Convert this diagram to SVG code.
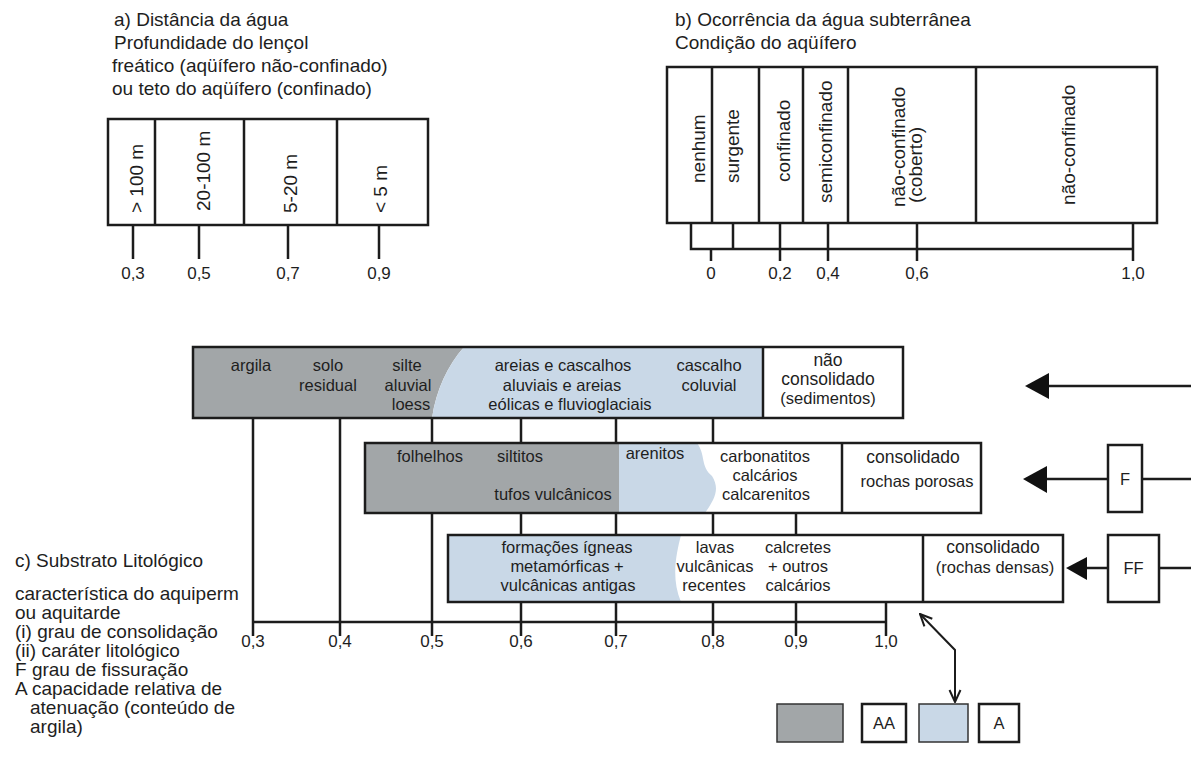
<svg xmlns="http://www.w3.org/2000/svg" width="1191" height="758" viewBox="0 0 1191 758">
<style>
  text { font-family: "Liberation Sans", Arial, sans-serif; fill: #1e1e1e; }
  .t19 { font-size: 19px; }
  .t16 { font-size: 16.5px; }
  .h { font-size: 17.5px; }
  .lab { font-size: 17px; text-anchor: middle; }
  .m { text-anchor: middle; }
  .box { fill: none; stroke: #1c1c1c; stroke-width: 2.5; }
  .ln { stroke: #1c1c1c; stroke-width: 2.5; fill: none; }
  .thin { stroke: #1c1c1c; stroke-width: 2; fill: none; }
  .gray { fill: #a2a6a8; }
  .blue { fill: #c9d8e7; }
  .head { fill: #111; }
</style>
<defs>
  <marker id="vhead" viewBox="0 0 14 14" refX="13" refY="7" markerWidth="14" markerHeight="14" markerUnits="userSpaceOnUse" orient="auto-start-reverse">
    <path d="M1,1.5 L13,7 L1,12.5" fill="none" stroke="#1c1c1c" stroke-width="2"/>
  </marker>
</defs>
<rect x="0" y="0" width="1191" height="758" fill="#ffffff"/>

<!-- Panel a -->
<g id="panel-a">
  <text class="t19" x="114" y="26">a) Distância da água</text>
  <text class="t19" x="114" y="49">Profundidade do lençol</text>
  <text class="t19" x="112" y="72">freático (aqüífero não-confinado)</text>
  <text class="t19" x="112" y="95">ou teto do aqüífero (confinado)</text>
  <rect class="box" x="108" y="119" width="320" height="106"/>
  <path class="ln" d="M155,119 V225 M244,119 V225 M337,119 V225"/>
  <text class="t19" transform="translate(143,213) rotate(-90)">&gt; 100 m</text>
  <text class="t19" transform="translate(210,211) rotate(-90)">20-100 m</text>
  <text class="t19" transform="translate(297,213) rotate(-90)">5-20 m</text>
  <text class="t19" transform="translate(387,213) rotate(-90)">&lt; 5 m</text>
  <path class="ln" d="M133,225 V259 M199,225 V259 M288,225 V259 M379,225 V259"/>
  <text class="lab" x="133" y="279">0,3</text>
  <text class="lab" x="199" y="279">0,5</text>
  <text class="lab" x="288" y="279">0,7</text>
  <text class="lab" x="379" y="279">0,9</text>
</g>

<!-- Panel b -->
<g id="panel-b">
  <text class="t19" x="675" y="26">b) Ocorrência da água subterrânea</text>
  <text class="t19" x="675" y="49">Condição do aqüífero</text>
  <rect class="box" x="667" y="67" width="490" height="156"/>
  <path class="ln" d="M712,67 V223 M759,67 V223 M803,67 V223 M848,67 V223 M976,67 V223"/>
  <text class="t19" transform="translate(705,183) rotate(-90)">nenhum</text>
  <text class="t19" transform="translate(739,183) rotate(-90)">surgente</text>
  <text class="t19" transform="translate(790,182) rotate(-90)">confinado</text>
  <text class="t19" transform="translate(832,203) rotate(-90)">semiconfinado</text>
  <text class="t19" transform="translate(905,207) rotate(-90)">não-confinado</text>
  <text class="t19" transform="translate(922,203) rotate(-90)">(coberto)</text>
  <text class="t19" transform="translate(1075,205) rotate(-90)">não-confinado</text>
  <path class="ln" d="M691,223 V249 H1133 M733,223 V249 M711,249 V261 M780,223 V261 M828,223 V261 M917,223 V261 M1133,223 V261"/>
  <text class="lab" x="711" y="279">0</text>
  <text class="lab" x="780" y="279">0,2</text>
  <text class="lab" x="828" y="279">0,4</text>
  <text class="lab" x="917" y="279">0,6</text>
  <text class="lab" x="1133" y="279">1,0</text>
</g>

<!-- Connectors -->
<g id="connectors">
  <path class="ln" d="M253,418 V636 M340,418 V636 M253,622 H886"/>
  <path class="ln" d="M432,418 V443 M521,418 V443 M616,418 V443 M713,418 V443"/>
  <path class="ln" d="M432,513 V636 M521,513 V535 M616,513 V535 M713,513 V535 M796,513 V535"/>
  <path class="ln" d="M521,602 V636 M616,602 V636 M713,602 V636 M796,602 V636 M886,602 V636"/>
  <path class="ln" d="M1048,386 H1191"/>
  <polygon class="head" points="1025,386 1049,373 1049,399"/>
  <path class="ln" d="M1046,479 H1108 M1142,479 H1191"/>
  <polygon class="head" points="1023,479 1047,466 1047,493"/>
  <path class="ln" d="M1086,568 H1108 M1159,568 H1191"/>
  <polygon class="head" points="1066,568 1087,557 1087,580"/>
  <path class="thin" d="M920,614 L955,650 V702" marker-start="url(#vhead)" marker-end="url(#vhead)"/>
</g>

<!-- Axis labels -->
<g id="axis-labels">
  <text class="lab" x="253" y="647">0,3</text>
  <text class="lab" x="340" y="647">0,4</text>
  <text class="lab" x="432" y="647">0,5</text>
  <text class="lab" x="521" y="647">0,6</text>
  <text class="lab" x="616" y="647">0,7</text>
  <text class="lab" x="713" y="647">0,8</text>
  <text class="lab" x="796" y="647">0,9</text>
  <text class="lab" x="886" y="647">1,0</text>
</g>

<!-- Box 1: não consolidado -->
<g id="box-nao-consolidado">
  <path class="gray" d="M193,347 H464 C448,365 436,390 432,418 H193 Z"/>
  <path class="blue" d="M464,347 H763 V418 H432 C436,390 448,365 464,347 Z"/>
  <rect class="box" x="193" y="347" width="710" height="71"/>
  <path class="ln" d="M763,347 V418"/>
  <text class="t16 m" x="251" y="371">argila</text>
  <text class="t16 m" x="328" y="371">solo</text>
  <text class="t16 m" x="328" y="391">residual</text>
  <text class="t16 m" x="407" y="371">silte</text>
  <text class="t16 m" x="408" y="391">aluvial</text>
  <text class="t16 m" x="411" y="410">loess</text>
  <text class="t16 m" x="563" y="371">areias e cascalhos</text>
  <text class="t16 m" x="562" y="391">aluviais e areias</text>
  <text class="t16 m" x="570" y="410">eólicas e fluvioglaciais</text>
  <text class="t16 m" x="709" y="371">cascalho</text>
  <text class="t16 m" x="709" y="391">coluvial</text>
  <text class="h m" x="828" y="366">não</text>
  <text class="h m" x="828" y="385">consolidado</text>
  <text class="t16 m" x="828" y="404">(sedimentos)</text>
</g>

<!-- Box 2: consolidado rochas porosas -->
<g id="box-consolidado-porosas">
  <rect class="gray" x="365" y="443" width="254" height="70"/>
  <path class="blue" d="M619,443 H697 C706,455 700,466 712,476 C721,490 713,501 705,513 H619 Z"/>
  <rect class="box" x="365" y="443" width="616" height="70"/>
  <path class="ln" d="M842,443 V513"/>
  <text class="t16 m" x="430" y="462">folhelhos</text>
  <text class="t16 m" x="520" y="462">siltitos</text>
  <text class="t16 m" x="553" y="500">tufos vulcânicos</text>
  <text class="t16 m" x="655" y="459">arenitos</text>
  <text class="t16 m" x="765" y="462">carbonatitos</text>
  <text class="t16 m" x="765" y="481">calcários</text>
  <text class="t16 m" x="766" y="500">calcarenitos</text>
  <text class="h m" x="913" y="463">consolidado</text>
  <text class="t16 m" x="917" y="487">rochas porosas</text>
</g>

<!-- Box 3: consolidado rochas densas -->
<g id="box-consolidado-densas">
  <path class="blue" d="M448,535 H681 C676,555 671,578 681,602 H448 Z"/>
  <rect class="box" x="448" y="535" width="615" height="67"/>
  <path class="ln" d="M923,535 V602"/>
  <text class="t16 m" x="567" y="553">formações ígneas</text>
  <text class="t16 m" x="567" y="572">metamórficas +</text>
  <text class="t16 m" x="568" y="591">vulcânicas antigas</text>
  <text class="t16 m" x="715" y="553">lavas</text>
  <text class="t16 m" x="715" y="572">vulcânicas</text>
  <text class="t16 m" x="714" y="591">recentes</text>
  <text class="t16 m" x="798" y="553">calcretes</text>
  <text class="t16 m" x="798" y="572">+ outros</text>
  <text class="t16 m" x="798" y="591">calcários</text>
  <text class="h m" x="993" y="553">consolidado</text>
  <text class="t16 m" x="995" y="573">(rochas densas)</text>
</g>

<g id="box-F">
  <rect class="box" x="1108" y="445" width="34" height="67" fill="#fff"/>
  <text class="t16 m" x="1125" y="485">F</text>
</g>
<g id="box-FF">
  <rect class="box" x="1108" y="535" width="51" height="67" fill="#fff"/>
  <text class="t16 m" x="1133.5" y="574">FF</text>
</g>

<!-- Left text -->
<g id="legend-text">
  <text class="t19" x="15" y="567">c) Substrato Litológico</text>
  <text class="t19" x="15" y="600">característica do aquiperm</text>
  <text class="t19" x="15" y="619">ou aquitarde</text>
  <text class="t19" x="15" y="638">(i) grau de consolidação</text>
  <text class="t19" x="15" y="657">(ii) caráter litológico</text>
  <text class="t19" x="15" y="676">F grau de fissuração</text>
  <text class="t19" x="15" y="695">A capacidade relativa de</text>
  <text class="t19" x="30" y="714">atenuação (conteúdo de</text>
  <text class="t19" x="30" y="733">argila)</text>
</g>

<!-- Legend boxes -->
<g id="legend-gray">
  <rect class="gray" x="777" y="704" width="66" height="38" stroke="#333" stroke-width="1.5"/>
</g>
<g id="legend-AA">
  <rect class="box" x="862" y="704" width="44" height="38"/>
  <text class="t16 m" x="884" y="729">AA</text>
</g>
<g id="legend-blue">
  <rect class="blue" x="919" y="704" width="49" height="38" stroke="#333" stroke-width="1.5"/>
</g>
<g id="legend-A">
  <rect class="box" x="979" y="704" width="40" height="38"/>
  <text class="t16 m" x="999" y="729">A</text>
</g>
</svg>
